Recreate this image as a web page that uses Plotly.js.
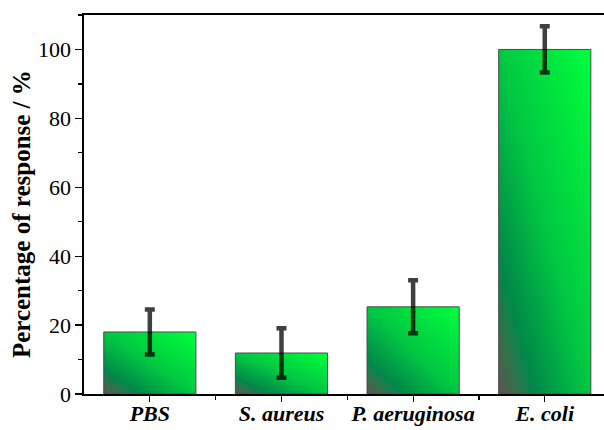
<!DOCTYPE html>
<html>
<head>
<meta charset="utf-8">
<script src="https://cdn.plot.ly/plotly-3.0.1.min.js"></script>
<style>html,body{margin:0;padding:0;background:#fff;}</style>
</head>
<body>
<div id="chart" style="width:604px;height:430px;"></div>
<script>
const categories = ["PBS", "S. aureus", "P. aeruginosa", "E. coli"];
const values = [18.0, 11.9, 25.3, 100.0];
const errors = [6.5, 7.2, 7.7, 6.7];
const yTickVals = [0, 20, 40, 60, 80, 100];
const yTitle = "Percentage of response / %";

const positions = categories.map((_, i) => i);
const SERIF = "'Liberation Serif', 'Times New Roman', Times, serif";

const trace = {
  type: "bar",
  x: positions,
  y: values,
  width: 0.7,
  marker: { color: "#00c040", line: { color: "#4a4a4a", width: 1 } },
  error_y: { type: "data", array: errors, visible: true, color: "rgba(0,0,0,0.75)", thickness: 4.5, width: 5 },
  hoverinfo: "none"
};

const layout = {
  width: 604, height: 430,
  margin: { l: 84, r: 0, t: 15, b: 36 },
  paper_bgcolor: "#fff", plot_bgcolor: "#fff",
  showlegend: false,
  font: { family: SERIF, color: "#000" },
  xaxis: {
    type: "linear",
    range: [-0.5, 3.45],
    tickvals: positions,
    ticktext: categories.map(c => "<b><i>" + c + "</i></b>"),
    tickfont: { size: 22, family: SERIF, color: "#000" },
    ticklabelstandoff: -7,
    ticks: "outside", ticklen: 6, tickwidth: 1.2, tickcolor: "#000",
    minor: { tickvals: [0.5, 1.5, 2.5], ticks: "outside", ticklen: 4, tickwidth: 1.2, tickcolor: "#000", showgrid: false },
    showline: true, linecolor: "#000", linewidth: 1.6, mirror: true,
    showgrid: false, zeroline: false, fixedrange: true
  },
  yaxis: {
    range: [0, 110],
    tickvals: yTickVals,
    tickfont: { size: 22, family: SERIF, color: "#000" },
    ticks: "outside", ticklen: 7, tickwidth: 1.2, tickcolor: "#000",
    minor: { dtick: 10, tick0: 10, ticks: "outside", ticklen: 4, tickwidth: 1.2, tickcolor: "#000", showgrid: false },
    showline: true, linecolor: "#000", linewidth: 1.6,
    showgrid: false, zeroline: false, fixedrange: true
  },
  annotations: [{
    text: "<b>" + yTitle + "</b>",
    textangle: -90,
    xref: "paper", yref: "paper",
    x: -0.119, y: 0.475,
    xanchor: "center", yanchor: "middle",
    showarrow: false,
    font: { size: 25, family: SERIF, color: "#000" }
  }]
};

Plotly.newPlot("chart", [trace], layout, { staticPlot: true, displayModeBar: false }).then(gd => {
  const svg = gd.querySelector("svg.main-svg");
  const ns = "http://www.w3.org/2000/svg";
  let defs = svg.querySelector("defs");
  if (!defs) { defs = document.createElementNS(ns, "defs"); svg.insertBefore(defs, svg.firstChild); }
  const grad = document.createElementNS(ns, "linearGradient");
  grad.setAttribute("id", "barGrad");
  grad.setAttribute("x1", "0"); grad.setAttribute("y1", "1");
  grad.setAttribute("x2", "1"); grad.setAttribute("y2", "0");
  const stops = [[0, "#5e5252"], [0.08, "#3d6a4a"], [0.2, "#00884a"], [0.5, "#00c842"], [1, "#00ff3c"]];
  stops.forEach(([o, c]) => {
    const s = document.createElementNS(ns, "stop");
    s.setAttribute("offset", o); s.setAttribute("stop-color", c);
    grad.appendChild(s);
  });
  defs.appendChild(grad);
  gd.querySelectorAll(".trace.bars .point path").forEach(p => { p.style.fill = "url(#barGrad)"; });
});
</script>
</body>
</html>
